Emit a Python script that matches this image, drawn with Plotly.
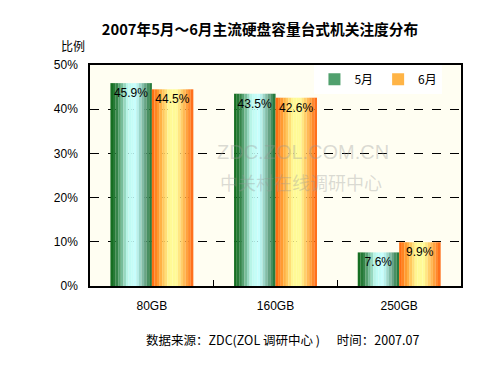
import plotly.graph_objects as go

categories = ["80GB", "160GB", "250GB"]
may_values = [45.9, 43.5, 7.6]
june_values = [44.5, 42.6, 9.9]
series_names = ["5月", "6月"]
y_tick_vals = [0, 10, 20, 30, 40, 50]
y_tick_text = ["0%", "10%", "20%", "30%", "40%", "50%"]

FONT = "Liberation Sans, Arial, Noto Sans CJK SC, sans-serif"
CJK = "Noto Sans CJK SC, sans-serif"

# gradient stops (style only)
green_stops = [(0.0, (15, 105, 25)), (0.15, (50, 130, 70)), (0.42, (190, 250, 240)),
               (0.62, (200, 255, 255)), (0.85, (100, 160, 130)), (1.0, (25, 115, 45))]
orange_stops = [(0.0, (255, 100, 10)), (0.2, (255, 170, 60)), (0.42, (255, 250, 150)),
                (0.6, (255, 250, 150)), (0.85, (255, 160, 60)), (1.0, (255, 100, 20))]


def interp(stops, t):
    for (t0, c0), (t1, c1) in zip(stops[:-1], stops[1:]):
        if t0 <= t <= t1:
            f = (t - t0) / (t1 - t0) if t1 > t0 else 0
            return "rgb(%d,%d,%d)" % tuple(round(a + (b - a) * f) for a, b in zip(c0, c1))
    return "rgb(%d,%d,%d)" % stops[-1][1]


fig = go.Figure()
x = list(range(len(categories)))
bar_w = 0.335
N = 16
series = [(may_values, green_stops, -bar_w, series_names[0], "rgb(80,160,110)"),
          (june_values, orange_stops, 0.0, series_names[1], "rgb(255,180,70)")]

for vals, stops, base_off, name, legend_col in series:
    sw = bar_w / N
    for i in range(N):
        t = (i + 0.5) / N
        fig.add_trace(go.Bar(
            x=x, y=vals, width=[sw * 1.03] * len(x), offset=base_off + i * sw,
            marker=dict(color=interp(stops, t), line=dict(width=0)),
            showlegend=False, hoverinfo="skip"))
    fig.add_trace(go.Bar(
        x=x, y=vals, width=[bar_w] * len(x), offset=base_off,
        marker=dict(color="rgba(0,0,0,0)", line=dict(width=0)),
        text=["%.1f%%" % v for v in vals], textposition="inside",
        insidetextanchor="end", textangle=0,
        textfont=dict(color="black", size=12, family=FONT),
        showlegend=False, hoverinfo="skip"))
    fig.add_trace(go.Bar(
        x=[None], y=[None], name=name,
        marker=dict(color=legend_col, line=dict(width=0))))

fig.update_layout(
    width=500, height=375,
    barmode="overlay",
    paper_bgcolor="white",
    plot_bgcolor="#fffef2",
    margin=dict(l=90, r=39, t=65, b=89),
    font=dict(family=FONT, size=12, color="black"),
    title=dict(text="<b>2007年5月～6月主流硬盘容量台式机关注度分布</b>",
               x=0.52, xanchor="center", y=0.92, yanchor="middle",
               font=dict(size=14.7, family=CJK)),
    showlegend=True,
    legend=dict(orientation="h", x=0.95, xanchor="right", y=0.935, yanchor="middle",
                bgcolor="white", font=dict(size=12, family=CJK),
                itemwidth=30, tracegroupgap=0),
    xaxis=dict(range=[-0.5, 2.5], tickvals=x, ticktext=categories, ticks="",
               showline=True, linecolor="black", linewidth=1.5, mirror=True,
               showgrid=False, zeroline=False, ticklabelstandoff=8,
               minor=dict(tickvals=[0.5, 1.5], ticks="inside", ticklen=6,
                          tickcolor="black", showgrid=False),
               tickfont=dict(size=12)),
    yaxis=dict(range=[0, 50], tickvals=y_tick_vals, ticktext=y_tick_text,
               showline=True, linecolor="black", linewidth=1.5, mirror=True,
               showgrid=True, gridcolor="black", griddash="dash", gridwidth=1,
               zeroline=False, ticks="", ticklabelstandoff=8, tickfont=dict(size=12)),
)

fig.add_annotation(xref="paper", yref="paper", x=-0.083, y=1.04, xanchor="left", yanchor="bottom",
                   text="比例", showarrow=False, font=dict(size=12, family=CJK))
fig.add_annotation(xref="paper", yref="paper", x=0.52, y=-0.19, xanchor="center", yanchor="top",
                   text="数据来源：ZDC(ZOL 调研中心 )&nbsp;&nbsp;&nbsp;&nbsp;&nbsp;&nbsp;时间：2007.07",
                   showarrow=False, font=dict(size=12.5, family=CJK))
fig.add_annotation(xref="paper", yref="paper", x=0.575, y=0.605, xanchor="center", yanchor="middle",
                   text="ZDC.ZOL.COM.CN", showarrow=False, borderpad=0,
                   font=dict(size=20, color="rgba(150,150,150,0.35)", family=FONT))
fig.add_annotation(xref="paper", yref="paper", x=0.57, y=0.47, xanchor="center", yanchor="middle",
                   text="中关村在线调研中心", showarrow=False, borderpad=0,
                   font=dict(size=18, color="rgba(150,150,150,0.35)", family=CJK))

fig.write_html("out.html", config={"displayModeBar": False},
               post_script="document.body.style.margin='0';")
